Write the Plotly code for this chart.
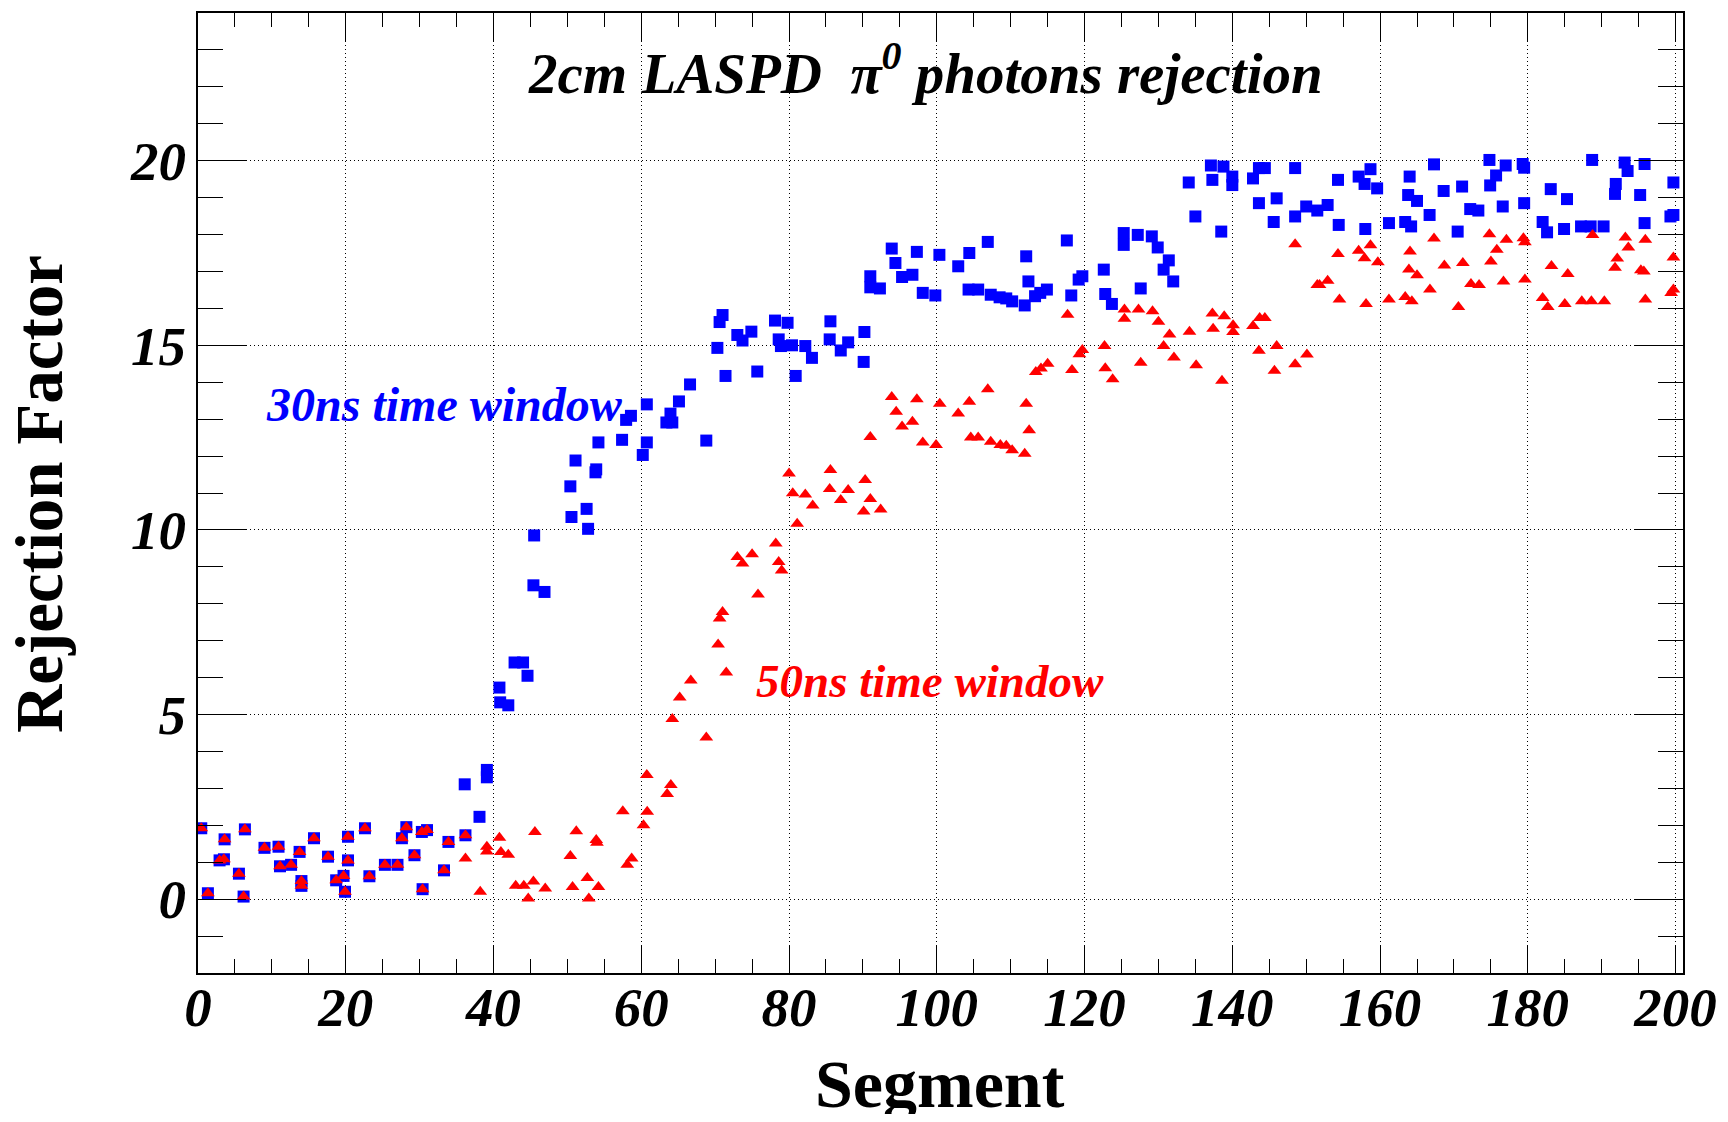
import plotly.graph_objects as go

# ---- data ----
# segments where both time windows give the same rejection factor
low_seg = [0.44, 1.34, 2.92, 3.51, 3.6, 5.54, 6.17, 6.35, 9.0, 10.9, 11.1, 12.6, 13.75, 14.0, 14.0,
           15.7, 17.6, 18.7, 19.7, 19.9, 20.3, 20.3, 22.6, 23.2, 25.3, 27.0, 27.6, 28.2, 29.3, 30.3,
           30.4, 31.0, 33.3, 33.9, 36.2]
low_rf = [1.92, 0.16, 1.05, 1.08, 1.62, 0.69, 0.07, 1.89, 1.39, 1.42, 0.89, 0.93, 1.28, 0.49, 0.36,
          1.65, 1.15, 0.51, 0.63, 0.2, 1.69, 1.05, 1.92, 0.62, 0.93, 0.93, 1.65, 1.95, 1.19, 1.82,
          0.27, 1.87, 0.78, 1.55, 1.73]

seg_30ns = [36.1, 38.1, 39.1, 39.1, 40.8, 40.9, 42.0, 42.85, 44.0, 44.6, 45.5, 45.4, 46.9, 50.4, 50.55,
            51.1, 52.6, 52.8, 53.8, 53.9, 54.2, 57.4, 57.95, 58.6, 60.2, 60.75, 60.75, 63.4, 63.95, 64.2,
            65.1, 66.6, 68.8, 70.3, 70.6, 71.0, 71.4, 73.0, 73.7, 74.9, 75.7, 78.1, 78.6, 78.9, 79.8,
            80.4, 80.9, 82.2, 83.1, 85.5, 85.6, 87.0, 88.0, 90.1, 90.2, 91.0, 91.0, 92.3, 93.9, 94.4,
            95.3, 96.7, 97.3, 98.1, 99.8, 100.35, 102.9, 104.3, 104.4, 105.6, 106.9, 107.3, 108.5, 109.4,
            110.2, 111.9, 112.1, 112.4, 113.3, 114.0, 114.9, 117.6, 118.2, 119.2, 119.7, 122.6, 122.8,
            123.7, 125.3, 125.3, 127.2, 127.6, 129.1, 129.9, 130.7, 131.4, 132.0, 134.1, 135.0, 137.1,
            137.3, 138.5, 138.8, 140.0, 140.0, 142.8, 143.6, 143.6, 144.4, 145.6, 146.0, 148.5, 148.5,
            150.0, 151.5, 152.9, 154.3, 154.4, 157.1, 157.9, 158.0, 158.7, 159.6, 161.2, 163.4, 163.8,
            164.0, 164.2, 165.0, 166.7, 167.3, 168.6, 170.5, 171.1, 172.2, 173.3, 174.8, 174.9, 175.7,
            176.6, 177.0, 179.3, 179.5, 179.5, 182.0, 182.6, 183.1, 184.9, 185.3, 187.2, 188.5, 188.7,
            190.25, 191.8, 191.9, 193.1, 193.5, 195.2, 195.8, 195.8, 199.3, 199.7, 199.7]
rf_30ns = [3.11, 2.23, 3.5, 3.3, 5.73, 5.33, 5.25, 6.41, 6.41, 6.05, 9.85, 8.5, 8.32, 11.18, 10.35,
           11.88, 10.57, 10.03, 11.56, 11.64, 12.37, 12.44, 12.98, 13.09, 12.03, 12.37, 13.4, 12.91, 13.15, 12.91,
           13.48, 13.94, 12.42, 14.93, 15.63, 15.82, 14.17, 15.28, 15.13, 15.37, 14.29, 15.67, 15.16, 14.98, 15.61,
           15.0, 14.17, 14.98, 14.66, 15.16, 15.65, 14.86, 15.08, 14.55, 15.36, 16.87, 16.57, 16.54, 17.62, 17.23,
           16.85, 16.91, 17.53, 16.42, 16.35, 17.45, 17.14, 16.51, 17.5, 16.51, 17.8, 16.37, 16.3, 16.27,
           16.19, 16.08, 17.41, 16.73, 16.33, 16.42, 16.51, 17.84, 16.35, 16.78, 16.87, 17.05, 16.39,
           16.12, 18.04, 17.72, 17.99, 16.54, 17.95, 17.65, 17.05, 17.3, 16.73, 19.41, 18.49, 19.87,
           19.48, 18.08, 19.84, 19.57, 19.34, 19.52, 19.8, 18.85, 19.8, 18.34, 18.98, 19.8, 18.49,
           18.76, 18.65, 18.8, 19.48, 18.26, 19.57, 19.37, 18.15, 19.77, 19.25, 18.31, 18.34, 19.07,
           19.57, 18.22, 18.91, 18.53, 19.9, 19.18, 18.08, 19.3, 18.69, 18.65, 20.02, 19.33, 19.6,
           18.76, 19.87, 19.91, 19.81, 18.85, 18.34, 18.06, 19.23, 18.15, 18.96, 18.22, 18.22, 20.02,
           18.22, 19.1, 19.37, 19.95, 19.72, 19.07, 19.91, 18.31, 18.49, 18.53, 19.41]

seg_50ns = [36.2, 38.2, 39.1, 39.1, 40.8, 41.0, 42.0, 43.0, 44.1, 44.7, 45.4, 45.6, 47.0, 50.4, 50.7,
            51.2, 52.7, 52.9, 53.9, 54.0, 54.2, 57.5, 58.1, 58.7, 60.3, 60.75, 60.8, 63.5, 64.0, 64.2,
            65.2, 66.7, 68.8, 70.4, 70.6, 71.0, 71.5, 73.0, 73.7, 75.0, 75.8, 78.2, 78.6, 79.0, 80.0,
            80.5, 81.1, 82.2, 83.2, 85.5, 85.6, 87.0, 88.0, 90.1, 90.3, 91.0, 91.0, 92.4, 93.9, 94.5,
            95.3, 96.7, 97.3, 98.1, 99.9, 100.4, 102.9, 104.4, 104.6, 105.6, 106.9, 107.3, 108.6, 109.4,
            110.2, 111.9, 112.1, 112.5, 113.4, 114.1, 115.0, 117.7, 118.3, 119.3, 119.7, 122.7, 122.8,
            123.8, 125.4, 125.4, 127.3, 127.6, 129.2, 130.0, 130.7, 131.5, 132.1, 134.2, 135.1, 137.3,
            137.4, 138.6, 138.9, 140.1, 140.1, 142.8, 143.6, 143.7, 144.4, 145.7, 146.0, 148.5, 148.5,
            150.1, 151.5, 151.8, 152.9, 154.3, 154.5, 157.1, 157.9, 158.1, 158.7, 159.7, 161.2, 163.4,
            163.9, 164.05, 164.3, 165.0, 166.75, 167.3, 168.7, 170.6, 171.2, 172.3, 173.4, 174.8, 175.0,
            175.8, 176.7, 177.1, 179.4, 179.6, 179.6, 182.0, 182.7, 183.2, 185.0, 185.4, 187.3, 188.6,
            188.76, 190.35, 191.8, 192.1, 193.2, 193.6, 195.3, 195.7, 195.9, 195.9, 199.4, 199.7, 199.7]
rf_50ns = [1.1, 0.2, 1.42, 1.29, 1.66, 1.28, 1.2, 0.36, 0.36, 0.02, 0.48, 1.82, 0.29, 1.17, 0.33,
           1.84, 0.57, 0.02, 1.6, 1.53, 0.33, 2.38, 0.93, 1.1, 2.0, 3.36, 2.37, 2.85, 3.09, 4.88,
           5.46, 5.92, 4.38, 6.9, 7.6, 7.78, 6.14, 9.27, 9.09, 9.34, 8.25, 9.63, 9.13, 8.9, 11.53,
           10.99, 10.17, 10.96, 10.66, 11.11, 11.62, 10.81, 11.08, 10.5, 11.35, 10.84, 12.52, 10.55, 13.6, 13.2,
           12.8, 12.93, 13.54, 12.37, 12.3, 13.42, 13.15, 13.47, 12.5, 12.5, 13.81, 12.39, 12.3, 12.28,
           12.16, 12.06, 13.42, 12.7, 14.28, 14.37, 14.5, 15.83, 14.33, 14.76, 14.87, 14.98, 14.38,
           14.08, 15.97, 15.72, 15.97, 14.53, 15.92, 15.64, 14.98, 15.29, 14.67, 15.37, 14.46, 15.86,
           15.45, 14.04, 15.79, 15.54, 15.36, 15.52, 14.85, 15.74, 15.74, 14.31, 14.98, 17.74, 14.49,
           14.75, 16.63, 16.63, 16.75, 17.47, 16.24, 17.56, 17.36, 16.12, 17.71, 17.25, 16.24, 16.31,
           17.05, 17.54, 16.19, 16.9, 16.51, 17.89, 17.16, 16.04, 17.23, 16.66, 16.63, 18.01, 17.27,
           17.59, 16.73, 17.86, 17.9, 17.79, 16.78, 16.28, 16.04, 17.15, 16.12, 16.93, 16.19, 16.19,
           17.99, 16.19, 17.1, 17.35, 17.92, 17.65, 17.03, 17.0, 17.86, 16.24, 16.42, 16.51, 17.38]

x_ticks = [0, 20, 40, 60, 80, 100, 120, 140, 160, 180, 200]
y_ticks = [0, 5, 10, 15, 20]

title_text = "2cm LASPD  \u03c0<sup>0</sup> photons rejection"
label_30 = "30ns time window"
label_50 = "50ns time window"

# ---- figure ----
SERIF = "Liberation Serif"

fig = go.Figure()
fig.add_trace(go.Scatter(
    x=low_seg + seg_30ns, y=low_rf + rf_30ns, mode="markers",
    marker=dict(symbol="square", size=12, color="#0000ff", line=dict(width=0)),
    name=label_30, showlegend=False))
fig.add_trace(go.Scatter(
    x=low_seg + seg_50ns, y=low_rf + rf_50ns, mode="markers",
    marker=dict(symbol="triangle-up", size=12, color="#ff0000", line=dict(width=0)),
    name=label_50, showlegend=False))

tickfont = dict(family=SERIF, size=55, color="black", weight="bold", style="italic")

fig.update_layout(
    width=1712, height=1106, autosize=False,
    margin=dict(l=190, r=36, t=3, b=141, pad=0),
    paper_bgcolor="white", plot_bgcolor="white",
    xaxis=dict(
        range=[0, 201], tickmode="array", tickvals=x_ticks,
        ticks="inside", ticklen=28, tickwidth=1, tickcolor="black",
        minor=dict(dtick=5, tick0=0, ticks="inside", ticklen=14, tickwidth=1, tickcolor="black", showgrid=False),
        showline=True, linewidth=2, linecolor="black", mirror="ticks",
        showgrid=True, gridcolor="black", gridwidth=1, griddash="1px,3px",
        zeroline=False, tickfont=tickfont, ticklabelstandoff=-15,
    ),
    yaxis=dict(
        range=[-2, 24], tickmode="array", tickvals=y_ticks,
        ticks="inside", ticklen=48, tickwidth=1, tickcolor="black",
        minor=dict(dtick=1, tick0=0, ticks="inside", ticklen=25, tickwidth=1, tickcolor="black", showgrid=False),
        showline=True, linewidth=2, linecolor="black", mirror="ticks",
        showgrid=True, gridcolor="black", gridwidth=1, griddash="1px,3px",
        zeroline=False, tickfont=tickfont, ticklabelstandoff=-1,
    ),
    annotations=[
        dict(text=title_text, xref="paper", yref="paper", x=0.490, y=0.9415,
             xanchor="center", yanchor="middle", showarrow=False,
             font=dict(family=SERIF, size=57, color="black", weight="bold", style="italic")),
        dict(text=label_30, xref="paper", yref="paper", x=0.1657, y=0.592,
             xanchor="center", yanchor="middle", showarrow=False,
             font=dict(family=SERIF, size=48, color="#0000ff", weight="bold", style="italic")),
        dict(text=label_50, xref="paper", yref="paper", x=0.493, y=0.304,
             xanchor="center", yanchor="middle", showarrow=False,
             font=dict(family=SERIF, size=47, color="#ff0000", weight="bold", style="italic")),
        dict(text="Segment", xref="paper", yref="paper", x=0.4995, y=-0.116,
             xanchor="center", yanchor="middle", showarrow=False,
             font=dict(family=SERIF, size=68, color="black", weight="bold")),
        dict(text="Rejection Factor", xref="paper", yref="paper", x=-0.107, y=0.499,
             xanchor="center", yanchor="middle", showarrow=False, textangle=-90,
             font=dict(family=SERIF, size=67, color="black", weight="bold")),
    ],
)

fig.write_html("out.html")
